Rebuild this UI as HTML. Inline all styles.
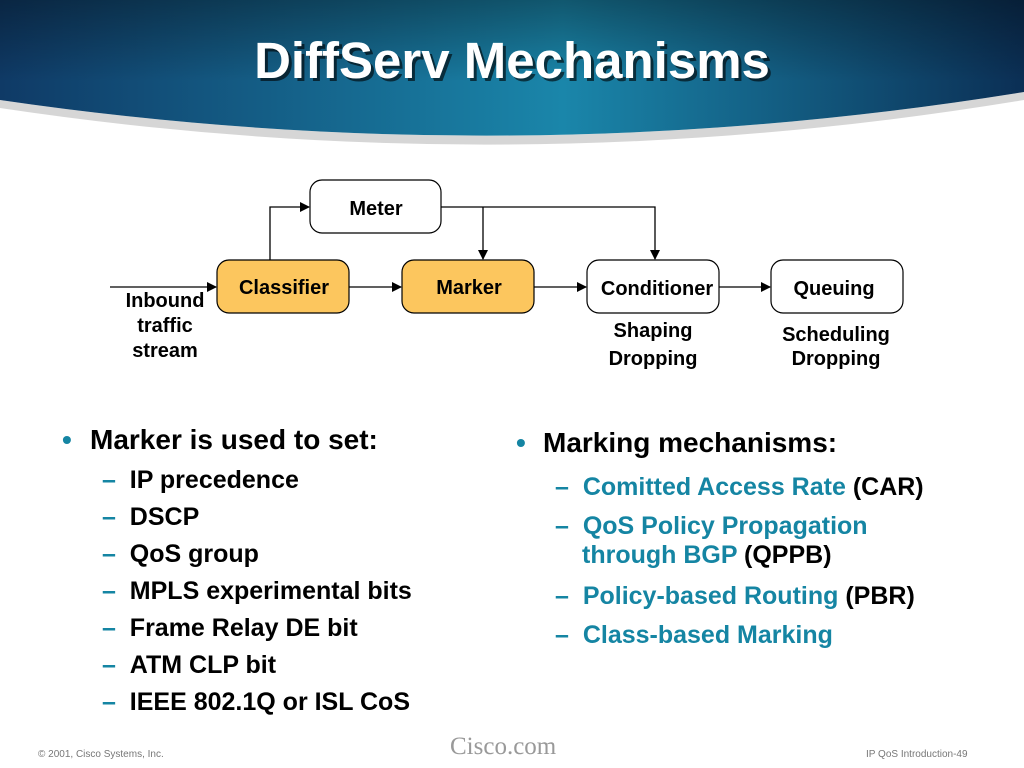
<!DOCTYPE html>
<html><head><meta charset="utf-8"><style>
body{margin:0;width:1024px;height:768px;background:#fff;position:relative;overflow:hidden;font-family:"Liberation Sans",Arial,sans-serif;font-weight:bold}
.t{position:absolute;white-space:nowrap;line-height:1}
.c{color:#1585a3}
.f{position:absolute;font-weight:normal;color:#777;font-size:10px}
.m{font-size:28px}
.s{font-size:25px}
</style></head><body>
<svg width="1024" height="768" style="position:absolute;left:0;top:0">
<defs>
<linearGradient id="g" x1="0" y1="0" x2="1" y2="0">
<stop offset="0" stop-color="#0f3a66"/><stop offset="0.55" stop-color="#1a86aa"/><stop offset="1" stop-color="#0b2f55"/>
</linearGradient>
<linearGradient id="v" x1="0" y1="0" x2="0" y2="1">
<stop offset="0" stop-color="#000" stop-opacity="0.35"/><stop offset="0.6" stop-color="#000" stop-opacity="0"/>
</linearGradient>
<marker id="a" markerWidth="10" markerHeight="10" refX="9" refY="5" orient="auto" markerUnits="userSpaceOnUse"><path d="M0,0 L10,5 L0,10 z" fill="#000"/></marker>
</defs>
<path d="M0,100 Q512,175 1024,92 L1024,100 Q512,185 0,108 z" fill="#bbb" opacity="0.6"/>
<path d="M0,0 H1024 V92 Q512,175 0,100 z" fill="url(#g)"/>
<path d="M0,0 H1024 V92 Q512,175 0,100 z" fill="url(#v)"/>
<g stroke="#000" stroke-width="1.3" fill="none">
<line x1="110" y1="287" x2="216" y2="287" marker-end="url(#a)"/>
<polyline points="270,260 270,207 309,207" marker-end="url(#a)"/>
<polyline points="441,207 655,207 655,259" marker-end="url(#a)"/>
<line x1="483" y1="207" x2="483" y2="259" marker-end="url(#a)"/>
<line x1="349" y1="287" x2="401" y2="287" marker-end="url(#a)"/>
<line x1="534" y1="287" x2="586" y2="287" marker-end="url(#a)"/>
<line x1="719" y1="287" x2="770" y2="287" marker-end="url(#a)"/>
</g>
<g stroke="#000" stroke-width="1.2">
<rect x="310" y="180" width="131" height="53" rx="12" fill="#fff"/>
<rect x="217" y="260" width="132" height="53" rx="12" fill="#fcc65e"/>
<rect x="402" y="260" width="132" height="53" rx="12" fill="#fcc65e"/>
<rect x="587" y="260" width="132" height="53" rx="12" fill="#fff"/>
<rect x="771" y="260" width="132" height="53" rx="12" fill="#fff"/>
</g>
<g font-family="Liberation Sans, Arial, sans-serif" font-weight="bold" font-size="20" text-anchor="middle" fill="#000">
<text x="376" y="215">Meter</text>
<text x="284" y="294">Classifier</text>
<text x="469" y="294">Marker</text>
<text x="657" y="295">Conditioner</text>
<text x="834" y="295">Queuing</text>
<text x="165" y="307">Inbound</text>
<text x="165" y="332">traffic</text>
<text x="165" y="357">stream</text>
<text x="653" y="337">Shaping</text>
<text x="653" y="365">Dropping</text>
<text x="836" y="341">Scheduling</text>
<text x="836" y="365">Dropping</text>
</g>
<text x="515" y="81" text-anchor="middle" font-family="Liberation Sans, Arial, sans-serif" font-weight="bold" font-size="51" fill="#000" opacity="0.6">DiffServ Mechanisms</text>
<text x="512" y="78" text-anchor="middle" font-family="Liberation Sans, Arial, sans-serif" font-weight="bold" font-size="51" fill="#fff">DiffServ Mechanisms</text>
</svg>
<div class="t m c" style="left:62px;top:426px">•</div>
<div class="t m" style="left:90px;top:426px">Marker is used to set:</div>
<div class="t s" style="left:102px;top:468px"><span class="c">–</span>&nbsp;&nbsp;IP precedence</div>
<div class="t s" style="left:102px;top:505px"><span class="c">–</span>&nbsp;&nbsp;DSCP</div>
<div class="t s" style="left:102px;top:542px"><span class="c">–</span>&nbsp;&nbsp;QoS group</div>
<div class="t s" style="left:102px;top:579px"><span class="c">–</span>&nbsp;&nbsp;MPLS experimental bits</div>
<div class="t s" style="left:102px;top:616px"><span class="c">–</span>&nbsp;&nbsp;Frame Relay DE bit</div>
<div class="t s" style="left:102px;top:653px"><span class="c">–</span>&nbsp;&nbsp;ATM CLP bit</div>
<div class="t s" style="left:102px;top:690px"><span class="c">–</span>&nbsp;&nbsp;IEEE 802.1Q or ISL CoS</div>
<div class="t m c" style="left:516px;top:429px">•</div>
<div class="t m" style="left:543px;top:429px">Marking mechanisms:</div>
<div class="t s" style="left:555px;top:475px"><span class="c">–</span>&nbsp;&nbsp;<span class="c">Comitted Access Rate</span> (CAR)</div>
<div class="t s" style="left:555px;top:514px"><span class="c">–</span>&nbsp;&nbsp;<span class="c">QoS Policy Propagation</span></div>
<div class="t s" style="left:582px;top:543px"><span class="c">through BGP</span> (QPPB)</div>
<div class="t s" style="left:555px;top:584px"><span class="c">–</span>&nbsp;&nbsp;<span class="c">Policy-based Routing</span> (PBR)</div>
<div class="t s" style="left:555px;top:623px"><span class="c">–</span>&nbsp;&nbsp;<span class="c">Class-based Marking</span></div>
<div class="f" style="left:38px;top:749px">© 2001, Cisco Systems, Inc.</div>
<div class="f" style="left:450px;top:733px;font-family:'Liberation Serif',serif;font-size:25px;color:#999">Cisco.com</div>
<div class="f" style="left:866px;top:749px">IP QoS Introduction-49</div>
</body></html>
